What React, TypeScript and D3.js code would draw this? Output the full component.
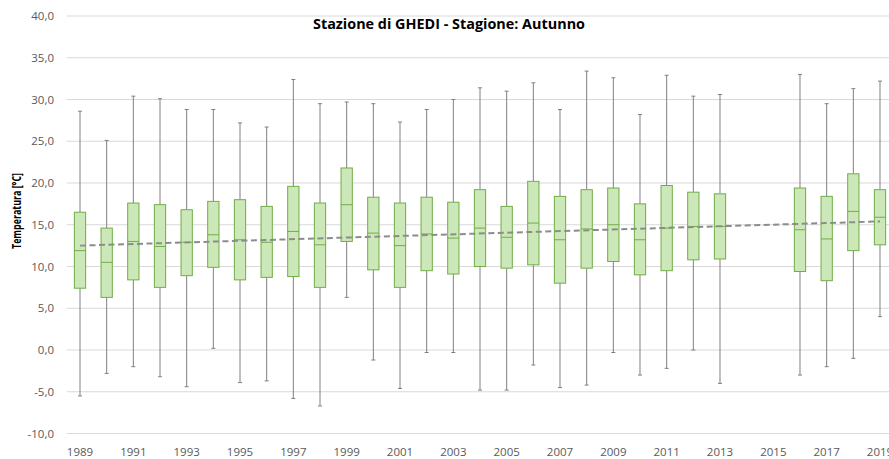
import React from "react";
import * as d3 from "d3";

const years = ["1989","1990","1991","1992","1993","1994","1995","1996","1997","1998","1999","2000","2001","2002","2003","2004","2005","2006","2007","2008","2009","2010","2011","2012","2013","2014","2015","2016","2017","2018","2019"];
const lowWhisker = [-5.5,-2.8,-2.0,-3.2,-4.4,0.2,-3.9,-3.7,-5.8,-6.7,6.3,-1.2,-4.6,-0.3,-0.3,-4.8,-4.8,-1.8,-4.5,-4.2,-0.3,-3.0,-2.2,0.0,-4.0,null,null,-3.0,-2.0,-1.0,4.0];
const q1 = [7.4,6.3,8.4,7.5,8.9,9.9,8.4,8.7,8.8,7.5,13.0,9.6,7.5,9.5,9.1,10.0,9.8,10.2,8.0,9.8,10.6,9.0,9.5,10.8,10.9,null,null,9.4,8.3,11.9,12.6];
const median = [11.9,10.5,13.0,12.4,12.9,13.8,13.2,12.9,14.2,12.6,17.4,14.0,12.5,13.9,13.4,14.6,13.5,15.2,13.2,14.5,15.0,13.2,14.6,14.8,14.8,null,null,14.4,13.3,16.6,15.9];
const q3 = [16.5,14.6,17.6,17.4,16.8,17.8,18.0,17.2,19.6,17.6,21.8,18.3,17.6,18.3,17.7,19.2,17.2,20.2,18.4,19.2,19.4,17.5,19.7,18.9,18.7,null,null,19.4,18.4,21.1,19.2];
const highWhisker = [28.6,25.1,30.4,30.1,28.8,28.8,27.2,26.7,32.4,29.5,29.7,29.5,27.3,28.8,30.0,31.4,31.0,32.0,28.8,33.4,32.6,28.2,32.9,30.4,30.6,null,null,33.0,29.5,31.3,32.2];
const trendYears = ["1989", "2019"];
const trendValues = [12.5, 15.4];
const yTicks = [-10,-5,0,5,10,15,20,25,30,35,40];
const xTickLabels = years.filter((_, i) => i % 2 === 0);

const W = 889, H = 459;
const fmt = (v: number) => v.toFixed(1).replace(".", ",");

export default function App() {
  const x = d3.scaleBand<string>().domain(years).range([66.67, 893.33]).padding(0);
  const y = d3.scaleLinear().domain([-10, 40]).range([433.5, 16]);
  const bw = 11.3;
  const cx = (yr: string) => (x(yr) as number) + x.bandwidth() / 2;
  const trendLine = d3.line<number>()
    .x((_, i) => cx(trendYears[i]))
    .y((d) => y(d));
  const font = "'Open Sans', sans-serif";
  return (
    <svg width={W} height={H} style={{ position: "absolute", left: 0, top: 0, background: "#fff" }}>
      <rect x={0} y={0} width={W} height={H} fill="#fff" />
      {yTicks.map((t) => (
        <g key={t}>
          <line x1={66.67} x2={W} y1={y(t)} y2={y(t)} stroke="#d9d9d9" strokeWidth={1} />
          <text x={54} y={y(t)} dy="0.35em" textAnchor="end" fontSize={11.5} fill="#595959" fontFamily={font}>{fmt(t)}</text>
        </g>
      ))}
      {years.map((yr, i) => {
        if (q1[i] == null) return null;
        const c = cx(yr);
        return (
          <g key={yr}>
            <line x1={c} x2={c} y1={y(highWhisker[i] as number)} y2={y(q3[i] as number)} stroke="#808080" strokeWidth={1} />
            <line x1={c} x2={c} y1={y(q1[i] as number)} y2={y(lowWhisker[i] as number)} stroke="#808080" strokeWidth={1} />
            <line x1={c - 2} x2={c + 2} y1={y(highWhisker[i] as number)} y2={y(highWhisker[i] as number)} stroke="#808080" strokeWidth={1} />
            <line x1={c - 2} x2={c + 2} y1={y(lowWhisker[i] as number)} y2={y(lowWhisker[i] as number)} stroke="#808080" strokeWidth={1} />
            <rect x={c - bw / 2} y={y(q3[i] as number)} width={bw} height={y(q1[i] as number) - y(q3[i] as number)} fill="#cde8b8" stroke="#70ad47" strokeWidth={1} />
            <line x1={c - bw / 2} x2={c + bw / 2} y1={y(median[i] as number)} y2={y(median[i] as number)} stroke="#70ad47" strokeWidth={1} />
          </g>
        );
      })}
      <path d={trendLine(trendValues) as string} fill="none" stroke="#8c8c8c" strokeWidth={2} strokeDasharray="6,3.5" />
      {xTickLabels.map((yr) => (
        <text key={yr} x={cx(yr)} y={452} dy="0.35em" textAnchor="middle" fontSize={11.5} fill="#595959" fontFamily={font}>{yr}</text>
      ))}
      <text x={449} y={29} textAnchor="middle" fontSize={14} fontWeight="bold" fill="#000" fontFamily={font} textLength={272} lengthAdjust="spacingAndGlyphs">Stazione di GHEDI - Stagione: Autunno</text>
      <text transform={`translate(17,211) rotate(-90)`} textAnchor="middle" dy="0.35em" fontSize={12.5} fontWeight="bold" fill="#000" fontFamily={font} textLength={76} lengthAdjust="spacingAndGlyphs">Temperatura [°C]</text>
    </svg>
  );
}
